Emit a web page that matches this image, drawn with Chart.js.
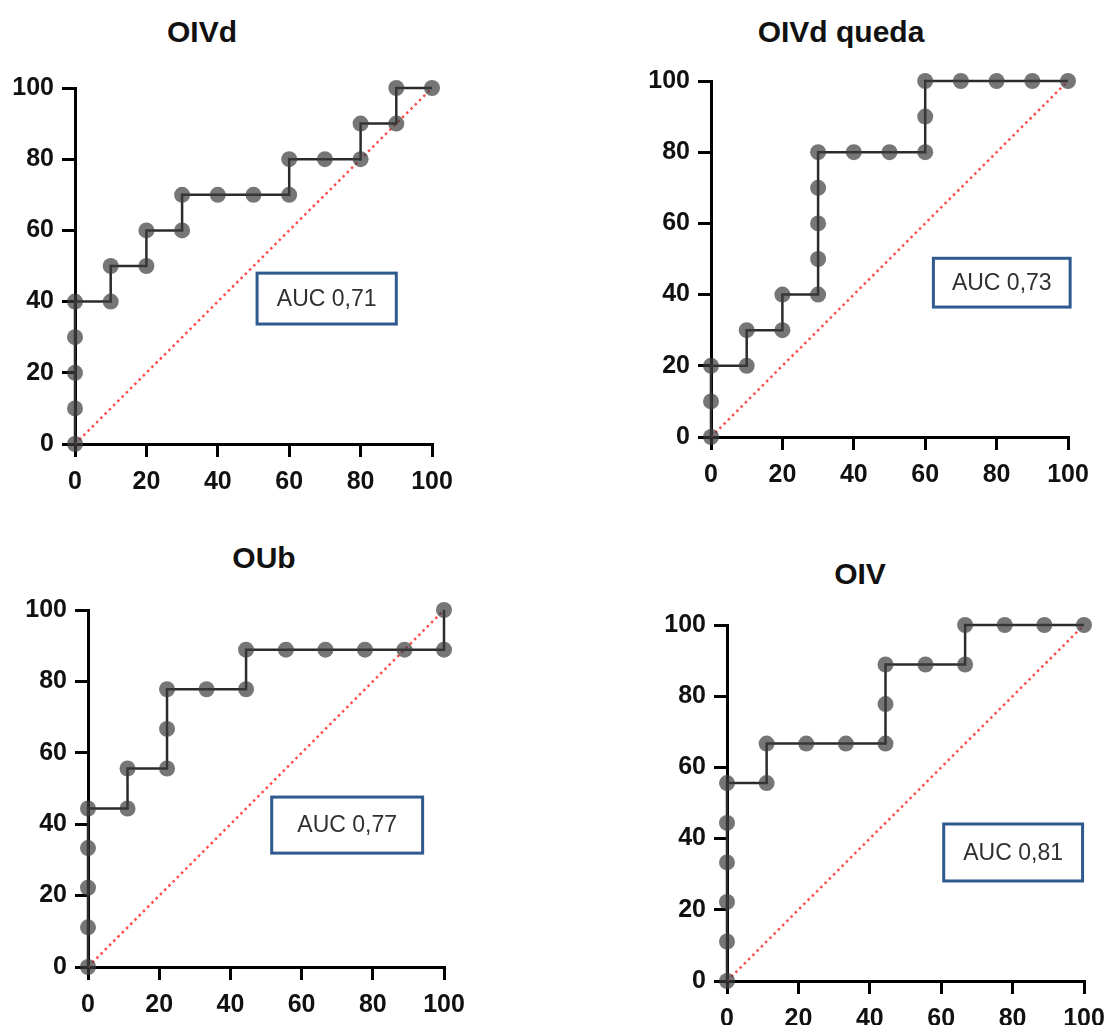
<!DOCTYPE html>
<html>
<head>
<meta charset="utf-8">
<script src="https://cdn.jsdelivr.net/npm/chart.js@4.4.1/dist/chart.umd.min.js"></script>
<style>
  html, body { margin: 0; padding: 0; background: #fff; width: 1108px; height: 1025px; overflow: hidden; }
  canvas { position: absolute; }
  .title {
    position: absolute;
    font: bold 30px "Liberation Sans", Arial, sans-serif;
    line-height: 1;
    color: #111;
    white-space: nowrap;
    transform: translate(-50%, -50%);
  }
</style>
</head>
<body>
<script>
// axis ticks, shared by all four panels
const tickValues = [0, 20, 40, 60, 80, 100];

const titles = ['OIVd', 'OIVd queda', 'OUb', 'OIV'];
const aucLabels = ['AUC 0,71', 'AUC 0,73', 'AUC 0,77', 'AUC 0,81'];

// ROC points: 100 - specificity (x) vs sensitivity (y)
const oivdX = [0, 0, 0, 0, 0, 10, 10, 20, 20, 30, 30, 40, 50, 60, 60, 70, 80, 80, 90, 90, 100];
const oivdY = [0, 10, 20, 30, 40, 40, 50, 50, 60, 60, 70, 70, 70, 70, 80, 80, 80, 90, 90, 100, 100];

const quedaX = [0, 0, 0, 10, 10, 20, 20, 30, 30, 30, 30, 30, 40, 50, 60, 60, 60, 70, 80, 90, 100];
const quedaY = [0, 10, 20, 20, 30, 30, 40, 40, 50, 60, 70, 80, 80, 80, 80, 90, 100, 100, 100, 100, 100];

const oubX = [0, 0, 0, 0, 0, 11.1, 11.1, 22.2, 22.2, 22.2, 33.3, 44.4, 44.4, 55.6, 66.7, 77.8, 88.9, 100, 100];
const oubY = [0, 11.1, 22.2, 33.3, 44.4, 44.4, 55.6, 55.6, 66.7, 77.8, 77.8, 77.8, 88.9, 88.9, 88.9, 88.9, 88.9, 88.9, 100];

const oivX = [0, 0, 0, 0, 0, 0, 11.1, 11.1, 22.2, 33.3, 44.4, 44.4, 44.4, 55.6, 66.7, 66.7, 77.8, 88.9, 100];
const oivY = [0, 11.1, 22.2, 33.3, 44.4, 55.6, 55.6, 66.7, 66.7, 66.7, 66.7, 77.8, 88.9, 88.9, 88.9, 100, 100, 100, 100];

// reference line
const diagX = [0, 100];
const diagY = [0, 100];

const seriesX = [oivdX, quedaX, oubX, oivX];
const seriesY = [oivdY, quedaY, oubY, oivY];

// page layout: plot area (left, top, width, height), title centre, AUC box in data units
const panels = [
  { plot: [75, 88, 357, 356],  title: [202, 32],  box: [51, 90, 33.7, 48] },
  { plot: [711, 81, 357, 356], title: [841, 32],  box: [62.3, 100.6, 36.5, 50.2] },
  { plot: [88, 610, 356, 357], title: [264, 558], box: [51.6, 94, 31.9, 47.6] },
  { plot: [727, 625, 357, 356], title: [860, 574], box: [60.7, 99.6, 28.1, 44.1] }
];

// room for axes and for the label overhang at the ends of the axes
const Y_AXIS_W = 75, X_AXIS_H = 55, PAD_TOP = 30, PAD_RIGHT = 38;
const fontFamily = '"Liberation Sans", Arial, sans-serif';

const aucBox = {
  id: 'aucBox',
  afterDatasetsDraw(chart, args, opts) {
    const xs = chart.scales.x, ys = chart.scales.y;
    const left = xs.getPixelForValue(opts.x0), right = xs.getPixelForValue(opts.x1);
    const top = ys.getPixelForValue(opts.y1), bottom = ys.getPixelForValue(opts.y0);
    const ctx = chart.ctx;
    ctx.save();
    ctx.fillStyle = '#fff';
    ctx.fillRect(left, top, right - left, bottom - top);
    ctx.strokeStyle = '#2f5a8f';
    ctx.lineWidth = 3;
    ctx.strokeRect(left, top, right - left, bottom - top);
    ctx.fillStyle = '#303030';
    ctx.font = '23px ' + fontFamily;
    ctx.textAlign = 'center';
    ctx.textBaseline = 'middle';
    ctx.fillText(opts.text, (left + right) / 2, (top + bottom) / 2 + 1);
    ctx.restore();
  }
};

function axisOptions(isX) {
  return {
    type: 'linear',
    min: 0,
    max: 100,
    afterFit: s => { if (isX) s.height = X_AXIS_H; else s.width = Y_AXIS_W; },
    afterBuildTicks: s => { s.ticks = tickValues.map(v => ({ value: v })); },
    border: { display: true, color: '#000', width: 3 },
    grid: { display: true, drawOnChartArea: false, drawTicks: true, tickLength: 13, color: '#000', lineWidth: 3 },
    ticks: {
      color: '#111',
      font: { family: fontFamily, size: 25, weight: 'bold' },
      padding: isX ? 10 : 8,
      maxRotation: 0,
      autoSkip: false
    }
  };
}

panels.forEach((p, i) => {
  const [L, T, W, H] = p.plot;
  const canvas = document.createElement('canvas');
  canvas.width = W + Y_AXIS_W + PAD_RIGHT;
  canvas.height = H + PAD_TOP + X_AXIS_H;
  canvas.style.left = (L - Y_AXIS_W) + 'px';
  canvas.style.top = (T - PAD_TOP) + 'px';
  document.body.appendChild(canvas);

  const title = document.createElement('div');
  title.className = 'title';
  title.textContent = titles[i];
  title.style.left = p.title[0] + 'px';
  title.style.top = p.title[1] + 'px';
  document.body.appendChild(title);

  new Chart(canvas.getContext('2d'), {
    type: 'scatter',
    data: {
      datasets: [
        {
          data: seriesX[i].map((v, k) => ({ x: v, y: seriesY[i][k] })),
          showLine: true,
          borderColor: '#2b2b2b',
          borderWidth: 2.5,
          pointRadius: 8,
          pointBackgroundColor: 'rgba(60,60,60,0.7)',
          pointBorderWidth: 0,
          clip: false,
          order: 1
        },
        {
          data: diagX.map((v, k) => ({ x: v, y: diagY[k] })),
          showLine: true,
          borderColor: '#ff4d4d',
          borderWidth: 2.5,
          borderDash: [2.5, 3.5],
          pointRadius: 0,
          clip: false,
          order: 2
        }
      ]
    },
    options: {
      responsive: false,
      animation: false,
      layout: { padding: { left: 0, top: PAD_TOP, right: PAD_RIGHT, bottom: 0 } },
      plugins: {
        legend: { display: false },
        tooltip: { enabled: false },
        aucBox: { text: aucLabels[i], x0: p.box[0], x1: p.box[1], y0: p.box[2], y1: p.box[3] }
      },
      scales: { x: axisOptions(true), y: axisOptions(false) }
    },
    plugins: [aucBox]
  });
});
</script>
</body>
</html>
